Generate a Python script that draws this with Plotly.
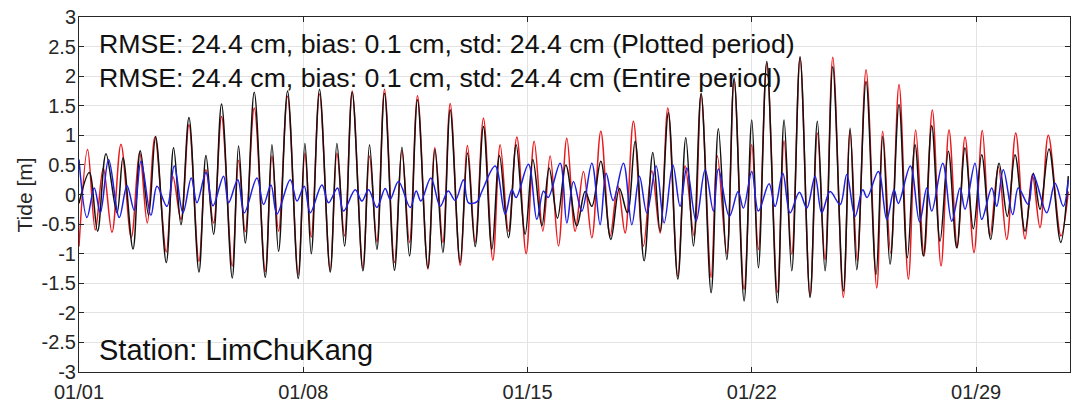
import numpy as np
import pandas as pd
import plotly.graph_objects as go

# ---- data: time in days since 01/01 00:00, tide in m ----
black_days = [0.0, 0.321, 0.580, 0.842, 1.186, 1.373, 1.685, 1.913, 2.172, 2.390, 2.724, 2.952,
              3.183, 3.432, 3.744, 3.963, 4.200, 4.449, 4.783, 4.980, 5.189, 5.470, 5.813, 6.022,
              6.228, 6.509, 6.842, 7.051, 7.248, 7.507, 7.841, 8.050, 8.287, 8.527, 8.861, 9.067,
              9.298, 9.535, 9.847, 10.078, 10.315, 10.565, 10.889, 11.108, 11.357, 11.585, 11.897,
              12.125, 12.365, 12.624, 12.886, 13.123, 13.404, 13.644, 13.925, 14.165, 14.446,
              14.674, 14.933, 15.195, 15.538, 15.797, 16.006, 16.287, 16.599, 16.867, 17.117,
              17.357, 17.638, 17.910, 18.137, 18.396, 18.690, 18.939, 19.176, 19.417, 19.729,
              19.956, 20.218, 20.446, 20.758, 20.998, 21.204, 21.467, 21.797, 22.006, 22.246,
              22.505, 22.817, 23.045, 23.285, 23.526, 23.856, 24.066, 24.275, 24.565, 24.877,
              25.086, 25.314, 25.594, 25.853, 26.094, 26.353, 26.615, 26.874, 27.133, 27.394,
              27.654, 27.913, 28.175, 28.456, 28.715, 28.973, 29.214, 29.526, 29.785, 29.994,
              30.275, 30.640, 30.877]
black_tide = [-0.15, 0.37, -0.62, 0.69, -0.31, 0.62, -0.92, 0.74, -0.35, 0.98, -1.15, 0.79,
              -0.51, 1.30, -1.31, 0.66, -0.67, 1.53, -1.41, 0.82, -0.82, 1.73, -1.40, 0.84,
              -0.96, 1.75, -1.42, 0.86, -1.00, 1.78, -1.31, 0.86, -0.87, 1.73, -1.29, 0.84,
              -0.93, 1.71, -1.28, 0.80, -1.04, 1.60, -1.24, 0.76, -0.98, 1.43, -1.15,
              0.70, -0.88, 1.15, -0.93, 0.66, -0.73, 0.84, -0.67, 0.59, -0.53,
              0.45, -0.40, 0.50, -0.53, 0.05, -0.20, 0.56, -0.76, 0.10, -0.31,
              0.90, -1.12, 0.71, -0.62, 1.38, -1.43, 0.96, -0.87, 1.71, -1.66,
              1.11, -1.10, 1.97, -1.80, 1.26, -1.24, 2.25, -1.83, 1.26, -1.29,
              2.33, -1.74, 1.24, -1.29, 2.16, -1.63, 1.12, -1.27, 1.91, -1.35,
              0.98, -1.18, 1.52, -1.07, 0.84, -1.04, 1.16, -0.79, 0.73, -0.90,
              0.79, -0.58, 0.67, -0.76, 0.53, -0.37, 0.67, -0.62, 0.36, -0.25,
              0.77, -0.81, 0.31]

red_days = [0.0, 0.268, 0.509, 0.758, 1.030, 1.310, 1.632, 1.891, 2.131, 2.371, 2.724, 2.933,
            3.183, 3.432, 3.744, 3.963, 4.200, 4.449, 4.783, 4.980, 5.189, 5.470, 5.813, 6.022,
            6.228, 6.509, 6.842, 7.051, 7.248, 7.507, 7.841, 8.050, 8.287, 8.527, 8.861, 9.067,
            9.298, 9.535, 9.847, 10.078, 10.315, 10.565, 10.889, 11.108, 11.357, 11.585, 11.897,
            12.125, 12.365, 12.624, 12.917, 13.145, 13.404, 13.666, 13.956, 14.206, 14.477,
            14.705, 14.964, 15.226, 15.485, 15.744, 16.006, 16.287, 16.577, 16.817, 17.045,
            17.304, 17.616, 17.878, 18.137, 18.378, 18.690, 18.917, 19.198, 19.417, 19.729,
            19.925, 20.218, 20.446, 20.758, 20.998, 21.204, 21.467, 21.797, 22.006, 22.246,
            22.505, 22.817, 23.045, 23.285, 23.526, 23.856, 24.066, 24.293, 24.565, 24.899,
            25.086, 25.335, 25.594, 25.885, 26.115, 26.375, 26.633, 26.905, 27.154, 27.413,
            27.654, 27.934, 28.193, 28.434, 28.693, 28.955, 29.236, 29.526, 29.754, 29.994,
            30.253, 30.649, 30.877]
red_tide = [-0.88, 0.76, -0.60, 0.45, -0.64, 0.85, -0.73, 0.72, -0.48, 0.97, -0.97, 0.30,
            -0.42, 1.18, -1.13, 0.42, -0.48, 1.32, -1.21, 0.58, -0.63, 1.46, -1.30, 0.65,
            -0.62, 1.66, -1.35, 0.70, -0.72, 1.70, -1.28, 0.70, -0.70, 1.75, -1.25, 0.65,
            -0.80, 1.78, -1.15, 0.75, -0.81, 1.67, -1.26, 0.79, -0.81, 1.54, -1.20,
            0.83, -0.81, 1.29, -1.11, 0.84, -0.62, 0.97, -1.00, 0.90, -0.62,
            0.65, -0.87, 0.95, -0.62, 0.39, -0.73, 1.07, -0.70, 0.15, -0.65,
            1.24, -0.87, 0.40, -0.65, 1.46, -1.38, 0.48, -0.70, 1.69, -1.40,
            0.65, -1.00, 1.94, -1.60, 0.84, -0.93, 2.22, -1.65, 0.91, -1.01,
            2.31, -1.72, 1.04, -1.10, 2.32, -1.74, 1.09, -1.12, 2.11, -1.58,
            1.07, -0.99, 1.86, -1.43, 1.09, -1.04, 1.43, -1.21, 1.09, -0.90,
            0.97, -0.98, 1.08, -0.70, 0.47, -0.76, 1.04, -0.75, 0.34, -0.56,
            1.00, -0.70, 0.05]

blue_days = [0.0, 0.250, 0.477, 0.665, 0.924, 1.257, 1.498, 1.725, 1.934, 2.246, 2.434, 2.746,
             2.973, 3.245, 3.504, 3.682, 3.963, 4.181, 4.512, 4.668, 4.955, 5.158, 5.554, 5.760,
             5.991, 6.178, 6.593, 6.802, 7.030, 7.217, 7.582, 7.788, 8.069, 8.256, 8.621, 8.830,
             9.036, 9.298, 9.557, 9.713, 9.972, 10.337, 10.524, 10.671, 10.983, 11.273, 11.523,
             11.741, 12.000, 12.156, 12.428, 12.574, 12.989, 13.301, 13.510, 13.644, 14.028,
             14.290, 14.496, 14.643, 15.017, 15.226, 15.432, 15.694, 16.006, 16.265, 16.452,
             16.671, 16.992, 17.254, 17.492, 17.722, 18.013, 18.262, 18.534, 18.761, 18.970,
             19.261, 19.541, 19.800, 19.956, 20.299, 20.571, 20.736, 20.998, 21.204, 21.538,
             21.726, 21.966, 22.193, 22.484, 22.715, 22.973, 23.182, 23.442, 23.754, 23.963,
             24.222, 24.462, 24.596, 24.949, 25.211, 25.438, 25.573, 25.947, 26.234, 26.459,
             26.615, 26.958, 27.239, 27.498, 27.654, 27.965, 28.175, 28.487, 28.643, 28.849,
             29.142, 29.317, 29.629, 29.785, 30.203, 30.462, 30.721, 30.877]
blue_tide = [0.59, -0.39, 0.11, -0.31, 0.59, -0.39, 0.15, -0.27, 0.56, -0.35, 0.14, -0.20,
             0.48, -0.31, 0.28, -0.14, 0.37, -0.19, 0.31, -0.14, 0.25, -0.31, 0.28, -0.17,
             0.16, -0.33, 0.25, -0.11, 0.14, -0.31, 0.16, -0.14, 0.11, -0.28, 0.08, -0.11,
             0.08, -0.22, 0.10, -0.08, 0.22, -0.22, 0.06, -0.11, 0.28, -0.20, 0.06,
             -0.10, 0.25, -0.14, -0.12, 0.05, 0.48, -0.33, 0.08, -0.05, 0.51,
             -0.42, 0.06, -0.05, 0.53, -0.48, 0.22, -0.28, 0.53, -0.51, 0.36,
             -0.10, 0.53, -0.51, 0.31, -0.31, 0.48, -0.48, 0.50, -0.20, 0.45,
             -0.45, 0.42, -0.28, 0.43, -0.37, 0.05, -0.23, 0.39, -0.28, 0.18,
             -0.20, 0.36, -0.31, 0.04, -0.23, 0.31, -0.31, 0.05, -0.17, 0.34,
             -0.37, 0.08, -0.05, 0.39, -0.42, 0.08, -0.15, 0.48, -0.46, 0.11,
             -0.28, 0.53, -0.45, 0.11, -0.25, 0.53, -0.42, 0.11, -0.20, 0.42,
             -0.34, 0.11, -0.17, 0.34, -0.31, 0.19, -0.20, 0.25]

x_tick_days = [0, 7, 14, 21, 28]
x_tick_labels = ["01/01", "01/08", "01/15", "01/22", "01/29"]
y_tick_vals = [-3, -2.5, -2, -1.5, -1, -0.5, 0, 0.5, 1, 1.5, 2, 2.5, 3]
y_tick_labels = ["-3", "-2.5", "-2", "-1.5", "-1", "-0.5", "0", "0.5", "1", "1.5", "2", "2.5", "3"]
x_end_days = 30.93

stats_lines = ["RMSE: 24.4 cm, bias: 0.1 cm, std: 24.4 cm (Plotted period)",
               "RMSE: 24.4 cm, bias: 0.1 cm, std: 24.4 cm (Entire period)"]
station_text = "Station: LimChuKang"
y_title = "Tide [m]"

# ---- figure ----
base = pd.Timestamp("2021-01-01")
def to_time(days):
    return base + pd.to_timedelta(np.asarray(days, dtype=float), unit="D")

FONT = "Liberation Sans, Arial, Helvetica, sans-serif"
TXT = "#111111"
fig = go.Figure()
fig.add_trace(go.Scatter(x=to_time(red_days), y=red_tide, mode="lines",
                         line=dict(color="#e8191c", width=1.5, shape="spline", smoothing=1.0),
                         showlegend=False))
fig.add_trace(go.Scatter(x=to_time(black_days), y=black_tide, mode="lines",
                         line=dict(color="#111111", width=1.5, shape="spline", smoothing=1.0),
                         showlegend=False))
fig.add_trace(go.Scatter(x=to_time(blue_days), y=blue_tide, mode="lines",
                         line=dict(color="#1f1fe0", width=1.5, shape="spline", smoothing=1.0),
                         showlegend=False))

fig.add_annotation(text=stats_lines[0], xref="paper", yref="paper", x=0.018, y=0.924,
                   xanchor="left", yanchor="middle", showarrow=False,
                   font=dict(family=FONT, size=26.7, color=TXT))
fig.add_annotation(text=stats_lines[1], xref="paper", yref="paper", x=0.018, y=0.828,
                   xanchor="left", yanchor="middle", showarrow=False,
                   font=dict(family=FONT, size=26.7, color=TXT))
fig.add_annotation(text=station_text, xref="paper", yref="paper", x=0.018, y=0.062,
                   xanchor="left", yanchor="middle", showarrow=False,
                   font=dict(family=FONT, size=29, color=TXT))
fig.add_annotation(text=y_title, xref="paper", yref="paper", x=-0.0545, y=0.5,
                   xanchor="center", yanchor="middle", textangle=-90, showarrow=False,
                   font=dict(family=FONT, size=21, color="#262626"))

axis_common = dict(showline=True, linecolor="#262626", linewidth=1, mirror="ticks",
                   ticks="inside", ticklen=5, tickcolor="#262626", automargin=False,
                   showgrid=True, gridcolor="#e3e3e3", gridwidth=1, zeroline=False,
                   ticklabeloverflow="allow",
                   tickfont=dict(family=FONT, size=20, color="#262626"))

fig.update_xaxes(range=[base, to_time([x_end_days])[0]], tickvals=to_time(x_tick_days),
                 ticktext=x_tick_labels, ticklabelstandoff=2, **axis_common)
fig.update_yaxes(range=[-3, 3], tickvals=y_tick_vals, ticktext=y_tick_labels,
                 ticklabelstandoff=-2, **axis_common)

fig.update_layout(width=1076, height=403, margin=dict(l=79, r=6, t=17, b=31, autoexpand=False),
                  paper_bgcolor="white", plot_bgcolor="white")

# remove the default 8px page margin so the figure fills the window exactly
fig.write_html("out.html", config={"displayModeBar": False},
               post_script="document.body.style.margin='0';document.body.style.overflow='hidden';")
